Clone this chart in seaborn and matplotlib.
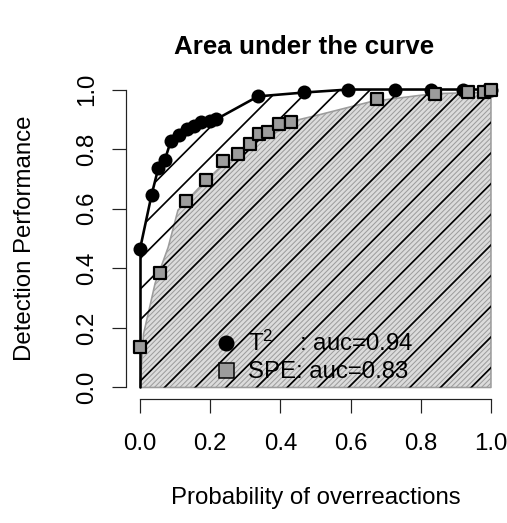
import numpy as np
import pandas as pd
import matplotlib
matplotlib.use("Agg")
import matplotlib.pyplot as plt
import seaborn as sns
from matplotlib.lines import Line2D

# ---- data ----
t2_fpr = [0.0, 0.0, 0.033, 0.052, 0.071, 0.088, 0.112, 0.135, 0.155, 0.175, 0.198, 0.217,
          0.336, 0.468, 0.594, 0.727, 0.83, 0.92, 0.99, 1.0]
t2_tpr = [0.0, 0.465, 0.647, 0.736, 0.765, 0.828, 0.849, 0.869, 0.877, 0.89, 0.895, 0.90,
          0.977, 0.99, 1.0, 1.0, 1.0, 1.0, 1.0, 1.0]

spe_fpr = [0.0, 0.057, 0.13, 0.188, 0.236, 0.278, 0.313, 0.34, 0.366, 0.395, 0.431,
           0.675, 0.84, 0.934, 0.98, 1.0]
spe_tpr = [0.136, 0.385, 0.625, 0.696, 0.761, 0.784, 0.816, 0.85, 0.859, 0.883, 0.89,
           0.968, 0.985, 0.991, 0.993, 0.997]

# smoothed SPE curve (grey area boundary)
spe_smooth_fpr = [0.0, 0.01, 0.043, 0.08, 0.108, 0.17, 0.22, 0.3, 0.36, 0.43, 0.453, 0.513,
                  0.66, 0.835, 0.93, 1.0]
spe_smooth_tpr = [0.0, 0.18, 0.35, 0.47, 0.595, 0.673, 0.73, 0.80, 0.845, 0.876, 0.899, 0.916,
                  0.96, 0.986, 0.989, 0.99]

legend_labels = [r"$\mathregular{T^2}$    : auc=0.94", "SPE: auc=0.83"]
title = "Area under the curve"
xlabel = "Probability of overreactions"
ylabel = "Detection Performance"
ticks = [0.0, 0.2, 0.4, 0.6, 0.8, 1.0]

DPI = 92
W, H = 507, 523
sns.set_style("white")
plt.rcParams["font.family"] = ["Liberation Sans", "DejaVu Sans"]
plt.rcParams["mathtext.fontset"] = "custom"
plt.rcParams["mathtext.rm"] = "Liberation Sans"

fig = plt.figure(figsize=(W / DPI, H / DPI), dpi=DPI)
ax = fig.add_axes([126 / W, 1 - 399.4 / H, 379 / W, (399.4 - 77.6) / H])

px = 72.0 / DPI  # points per pixel

# grey area under smoothed SPE curve, densely hatched
with plt.rc_context({"hatch.linewidth": 1.0 * px}):
    grey = ax.fill_between(spe_smooth_fpr, 0, spe_smooth_tpr, facecolor="#dcdcdc",
                           edgecolor="#9c9c9c", hatch="//////", linewidth=1.6 * px, zorder=1)
    if hasattr(grey, "set_hatch_linewidth"):
        grey.set_hatch_linewidth(1.0 * px)

# sparse black hatching under T2 curve
with plt.rc_context({"hatch.linewidth": 1.7 * px}):
    blk = ax.fill_between(t2_fpr, 0, t2_tpr, facecolor="none", edgecolor="black",
                          hatch="/", linewidth=0, zorder=2)
    if hasattr(blk, "set_hatch_linewidth"):
        blk.set_hatch_linewidth(1.7 * px)

df_t2 = pd.DataFrame({"fpr": t2_fpr[1:], "tpr": t2_tpr[1:]})
df_spe = pd.DataFrame({"fpr": spe_fpr, "tpr": spe_tpr})

ax.plot([t2_fpr[0], t2_fpr[1]], [t2_tpr[0], t2_tpr[1]], color="black", lw=2.6 * px, zorder=3)
sns.lineplot(data=df_t2, x="fpr", y="tpr", sort=False, estimator=None, color="black",
             lw=2.6 * px, marker="o", markersize=14 * px, markeredgewidth=0,
             ax=ax, zorder=4)
sns.scatterplot(data=df_spe, x="fpr", y="tpr", marker="s", s=(11.5 * px) ** 2,
                color="#9c9c9c", edgecolor="black", linewidth=2.2 * px, ax=ax, zorder=5)

ax.set_xlim(-0.04, 1.04)
ax.set_ylim(-0.04, 1.04)
ax.set_xticks(ticks)
ax.set_yticks(ticks)
ax.set_xticklabels([f"{t:.1f}" for t in ticks])
ax.set_yticklabels([f"{t:.1f}" for t in ticks], rotation=90, va="center")
for s in ["top", "right"]:
    ax.spines[s].set_visible(False)
for s in ["left", "bottom"]:
    ax.spines[s].set_bounds(0, 1)
    ax.spines[s].set_linewidth(1.2 * px)
    ax.spines[s].set_color("#222222")
ax.tick_params(axis="both", bottom=True, left=True, length=14 * px, width=1.2 * px,
               color="#222222", labelsize=24 * px, direction="out", labelcolor="black")
ax.tick_params(axis="x", pad=20 * px)
ax.tick_params(axis="y", pad=14 * px)
ax.set_xlabel(xlabel, fontsize=24 * px, labelpad=32 * px, color="black")
ax.set_ylabel(ylabel, fontsize=24 * px, labelpad=40 * px, color="black")
ax.set_facecolor("white")

fig.text(304 / W, 1 - 47 / H, title, ha="center", va="center", fontsize=26 * px,
         fontweight="bold", color="black")

handles = [Line2D([], [], marker="o", color="black", linestyle="none",
                  markersize=16 * px, markeredgewidth=0),
           Line2D([], [], marker="s", color="#9c9c9c", markeredgecolor="black",
                  markeredgewidth=1.5 * px, linestyle="none", markersize=15 * px)]
ax.legend(handles, legend_labels, loc="lower left", bbox_to_anchor=(0.193, 0.005),
          frameon=False, fontsize=24 * px, handlelength=1.0, handletextpad=0.42,
          labelspacing=0.22, borderaxespad=0.2, labelcolor="black")

fig.savefig("out.png", dpi=DPI)
